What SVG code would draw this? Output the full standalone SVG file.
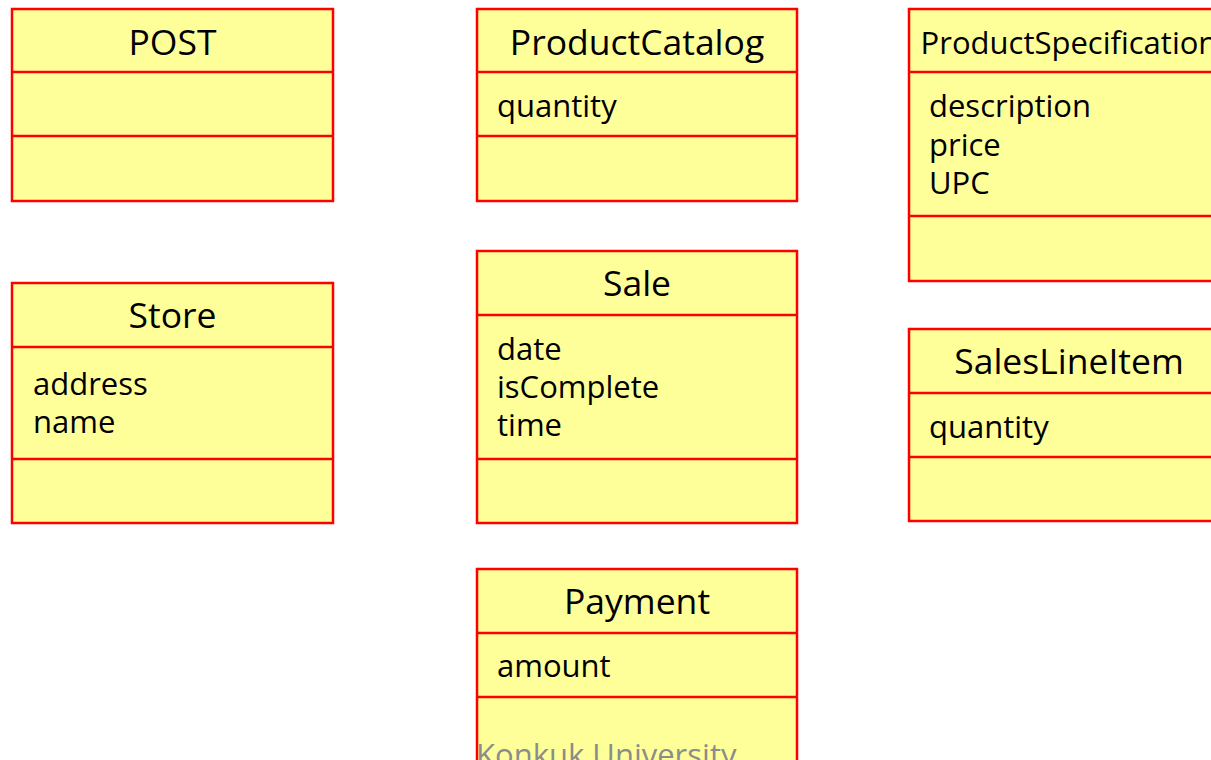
<svg xmlns="http://www.w3.org/2000/svg" width="1211" height="760" viewBox="0 0 1211 760">
<style>
.box{fill:#FFFF99;stroke:#FF0000;stroke-width:2.5}
.ln{stroke:#FF0000;stroke-width:2.5}
.t{font-family:"Open Sans","Noto Sans",sans-serif;font-size:35.5px;fill:#000;text-anchor:middle}
.a{font-family:"Open Sans","Noto Sans",sans-serif;font-size:31px;fill:#000}
.f{font-family:"Open Sans","Noto Sans",sans-serif;font-size:31px;fill:#8c8c8c}
</style>
<rect width="1211" height="760" fill="#fff"/>
<g id="POST">
<rect class="box" x="12" y="9" width="321" height="192"/>
<line class="ln" x1="12" y1="72" x2="333" y2="72"/>
<line class="ln" x1="12" y1="136" x2="333" y2="136"/>
<text class="t" x="172.5" y="55">POST</text>
</g>
<g id="ProductCatalog">
<rect class="box" x="477" y="9" width="320" height="192"/>
<line class="ln" x1="477" y1="72" x2="797" y2="72"/>
<line class="ln" x1="477" y1="136" x2="797" y2="136"/>
<text class="t" x="637" y="55">ProductCatalog</text>
<text class="a" x="497" y="117">quantity</text>
</g>
<g id="ProductSpecification">
<rect class="box" x="909" y="9" width="330" height="272"/>
<line class="ln" x1="909" y1="72" x2="1239" y2="72"/>
<line class="ln" x1="909" y1="216" x2="1239" y2="216"/>
<text class="t" x="1069" y="54" style="font-size:31px">ProductSpecification</text>
<text class="a" x="929" y="117">description</text>
<text class="a" x="929" y="156">price</text>
<text class="a" x="929" y="194">UPC</text>
</g>
<g id="Store">
<rect class="box" x="12" y="283" width="321" height="240"/>
<line class="ln" x1="12" y1="347" x2="333" y2="347"/>
<line class="ln" x1="12" y1="459" x2="333" y2="459"/>
<text class="t" x="172.5" y="328">Store</text>
<text class="a" x="33" y="395">address</text>
<text class="a" x="33" y="433">name</text>
</g>
<g id="Sale">
<rect class="box" x="477" y="251" width="320" height="272"/>
<line class="ln" x1="477" y1="315" x2="797" y2="315"/>
<line class="ln" x1="477" y1="459" x2="797" y2="459"/>
<text class="t" x="637" y="296">Sale</text>
<text class="a" x="497" y="360">date</text>
<text class="a" x="497" y="398">isComplete</text>
<text class="a" x="497" y="436">time</text>
</g>
<g id="SalesLineItem">
<rect class="box" x="909" y="329" width="330" height="192"/>
<line class="ln" x1="909" y1="393" x2="1239" y2="393"/>
<line class="ln" x1="909" y1="457" x2="1239" y2="457"/>
<text class="t" x="1069" y="374">SalesLineItem</text>
<text class="a" x="929" y="438">quantity</text>
</g>
<g id="Payment">
<rect class="box" x="477" y="569" width="320" height="220"/>
<line class="ln" x1="477" y1="633" x2="797" y2="633"/>
<line class="ln" x1="477" y1="697" x2="797" y2="697"/>
<text class="t" x="637" y="614">Payment</text>
<text class="a" x="497" y="677">amount</text>
</g>
<g id="connectors"></g>
<text class="f" x="476" y="766">Konkuk University</text>
</svg>
